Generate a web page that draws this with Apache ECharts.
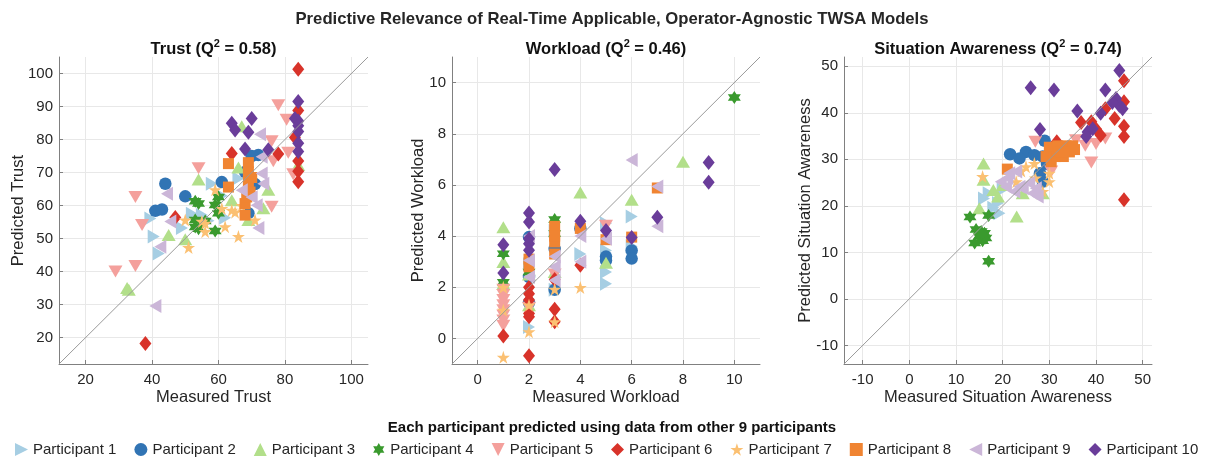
<!DOCTYPE html>
<html>
<head>
<meta charset="utf-8">
<script src="https://cdn.jsdelivr.net/npm/echarts@6/dist/echarts.min.js"></script>
<style>html,body{margin:0;padding:0;background:#fff}#c{width:1208px;height:459px}</style>
</head>
<body>
<div id="c"></div>
<script>
// ---------- DATA ----------
const participants = ['Participant 1','Participant 2','Participant 3','Participant 4','Participant 5','Participant 6','Participant 7','Participant 8','Participant 9','Participant 10'];
const colors = ['#a6cee3','#3174b4','#b2df8a','#3a9a2e','#f4a09c','#d8332a','#fbc072','#f08432','#cbb6d8','#6a3d9a'];

// Trust: [measured, predicted]
const trustP1 = [[58,66.6],[66,68.2],[62,56.3],[55,57.1],[39.5,56.1],[49,53.2],[40.5,50.6],[42,45.5],[57,55.4],[61,63],[52,57.5]];
const trustP2 = [[44,66.6],[50,62.8],[41,58.4],[43,58.8],[61,67.1],[72,75.3],[70,75],[69,57.7],[68,70.2],[71,66.5]];
const trustP3 = [[67,84],[66,71.5],[54,67.9],[45,51.1],[50,49.8],[33,34.5],[32.5,35],[75,64.8],[73.5,59.2],[69,55.6],[64,61.6],[84,72.3]];
const trustP4 = [[53,61.3],[54,60.6],[53,55.6],[53,53.5],[54,53],[56,55.3],[59,52.3],[60,62.6],[59,60.2],[60,57.7],[55,54.5]];
const trustP5 = [[78,90.4],[80.5,86],[76,79.5],[81,76],[76.5,73.4],[82.5,69.5],[54,71.3],[35,62.6],[37,54.1],[29,40],[35,41.7],[76,59.6]];
const trustP6 = [[84,101.3],[84,88.8],[83,80.6],[84,73.5],[84,70.4],[84,67.2],[64,75.8],[78,75.6],[47,56.4],[38,18.2]];
const trustP7 = [[59,64.8],[50,55.6],[51,47.3],[56,54.6],[56,52.1],[62,53.6],[66,50.6],[61,59.1],[64,58.6],[65,58],[71,55.6],[55,55.2],[67,60]];
const trustP8 = [[63,72.7],[69,73],[63,65.6],[69,70.2],[69,67],[68,60.6],[68,57.1],[69.5,64.1],[68.5,62.6],[70,68.5]];
const trustP9 = [[72.5,81.6],[44.5,63.6],[45.5,55.2],[42.5,47.5],[41,29.6],[72,53.2],[73,74.8],[73,69.7],[73.5,66.6],[67,64.6],[71.5,60.1],[70,62.5]];
const trustP10 = [[84,91.5],[83,86.4],[84,85.6],[84,84.2],[84,82.4],[84,78.9],[84,76.4],[64,84.9],[65,82.9],[70,86.4],[69,82.2],[68,77.1],[75,76.9]];

// Workload: [measured, predicted]
const workP1 = [[2,0.45],[3,1.9],[3,4.2],[4,3.3],[5,4.5],[5,3.44],[5,2.6],[5,2.14],[6,4.77],[6,3.6],[2,2.9]];
const workP2 = [[2,3.96],[2,2.4],[2,1.4],[3,3.5],[3,1.9],[4,4.3],[5,3.2],[5,3.05],[6,3.44],[6,3.12]];
const workP3 = [[1,4.35],[1,2.99],[1,2.14],[2,2.5],[2,1.3],[4,5.7],[5,2.96],[6,5.42],[8,6.91],[3,2.6]];
const workP4 = [[1,3.31],[1,2.2],[3,4.65],[3,4.1],[10,9.42],[2,2.6]];
const workP5 = [[1,1.9],[1,1.7],[1,1.5],[1,1.3],[1,1.1],[1,0.9],[1,0.7],[1,0.5],[5,4.4],[3,2.5],[2,1.2]];
const workP6 = [[1,0.09],[2,2.0],[2,1.75],[2,1.5],[2,0.97],[2,0.85],[2,-0.68],[3,1.14],[3,0.65],[4,2.86],[3,2.3]];
const workP7 = [[1,2.0],[1,1.1],[1,-0.74],[2,0.26],[3,1.92],[3,0.65],[4,1.99],[2,1.3]];
const workP8 = [[2,2.8],[2,3.1],[3,4.38],[3,3.77],[3,3.3],[4,4.3],[5,3.86],[6,3.96],[7,5.88],[3,4.0]];
const workP9 = [[2,4.0],[2,3.05],[2,2.4],[3,3.2],[3,2.8],[3,2.27],[4,4.0],[4,3.0],[5,3.9],[6,6.97],[7,5.94],[7,4.38]];
const workP10 = [[1,3.66],[1,2.56],[2,4.9],[2,4.55],[2,3.9],[2,3.7],[2,3.45],[3,6.6],[4,4.58],[5,4.22],[6,3.94],[7,4.74],[9,6.88],[9,6.1]];

// Situation Awareness: [measured, predicted]
const saP1 = [[16,21.6],[19,20.6],[19.3,18.4],[17,22.7],[20,23.5],[18,19.6]];
const saP2 = [[29,34],[21.6,31.1],[25,31.6],[23.6,30.2],[26.8,30.9],[28.6,30.6],[28,27],[28.6,25.2],[29.5,29]];
const saP3 = [[15.9,29.1],[15.9,25.6],[15,19.5],[23,17.7],[18,23.4],[20,24.5],[24.3,22.7],[28.6,22.7],[19,22]];
const saP4 = [[13,17.6],[17,17.9],[14.3,14.9],[15.4,14.5],[16.1,14.1],[15,13.4],[16.4,13.1],[14,12],[15.7,12.5],[17,8.1],[15.5,14]];
const saP5 = [[27,33.8],[35.7,34.1],[37.7,32.9],[40,33.3],[42,34.5],[39,29.3],[30.4,27.4],[33,32]];
const saP6 = [[46,46.9],[46,42.4],[46,37.1],[46,34.9],[44,38.8],[42,40.9],[36.8,37.9],[39,38.1],[41,35.2],[31.6,33.8],[46,21.3],[40,36.5]];
const saP7 = [[15.7,26.3],[26.8,29.1],[30,27],[30,25.2],[28.6,23.1],[25,28.4],[22.9,25.2],[27,26],[24,27.5]];
const saP8 = [[21,27.9],[30,32.6],[31.8,32.9],[33.6,32.9],[35,32.9],[31.4,30.6],[33,30.6],[30.4,29.5],[29.3,30.6],[34.3,31.6],[35.4,32.1],[32.5,31.5]];
const saP9 = [[19.6,25.2],[21.4,27],[22.9,27.4],[20.7,24.1],[23.6,24.1],[25.7,24.9],[22.5,23.1],[24.3,23.8],[26.4,22.7],[27.1,23.8],[27.5,22],[21,26]];
const saP10 = [[45,49.1],[26,45.4],[31,44.9],[42,44.9],[36,40.4],[44.3,43.1],[45,41.6],[45.7,40.9],[28,36.4],[41,39.9],[38.2,35.9],[39.3,36.6],[37.9,34.9],[43.5,42.2]];

const trustData = [trustP1,trustP2,trustP3,trustP4,trustP5,trustP6,trustP7,trustP8,trustP9,trustP10];
const workData = [workP1,workP2,workP3,workP4,workP5,workP6,workP7,workP8,workP9,workP10];
const saData = [saP1,saP2,saP3,saP4,saP5,saP6,saP7,saP8,saP9,saP10];

// axis ranges and tick steps
const ranges = [[12,105,10,20],[-1,11,2,2],[-14,52,10,10]]; // min, max, yStep, xStep
const panelTitles = [['Trust (Q','2',' = 0.58)'],['Workload (Q','2',' = 0.46)'],['Situation Awareness (Q','2',' = 0.74)']];
const xNames = ['Measured Trust','Measured Workload','Measured Situation Awareness'];
const yNames = ['Predicted Trust','Predicted Workload','Predicted Situation Awareness'];

// ---------- STYLE ----------
const FONT = 'Liberation Sans, Arial, Helvetica, sans-serif';
const TXT = '#262626';
const symbols = [
  'path://M0,0 L10,5 L0,10 Z',
  'circle',
  'triangle',
  'path://M50,0 L64.43,25 L93.3,25 L78.87,50 L93.3,75 L64.43,75 L50,100 L35.57,75 L6.7,75 L21.13,50 L6.7,25 L35.57,25 Z',
  'path://M0,0 L10,0 L5,10 Z',
  'diamond',
  'path://M50,0 L61.23,34.55 L97.55,34.55 L68.17,55.9 L79.39,90.45 L50,69.1 L20.61,90.45 L31.83,55.9 L2.45,34.55 L38.77,34.55 Z',
  'rect',
  'path://M10,0 L0,5 L10,10 Z',
  'diamond'
];
const sizes = [[12,14],12.5,[14,12],13,[14,12],[12,15],13,11,[12,14],[12,15]];

const grids = [
  {left:59, top:57, width:309, height:307},
  {left:452, top:57, width:308, height:307},
  {left:844, top:57, width:308, height:307}
];
const centers = grids.map(g => g.left + g.width/2);
const yNameGaps = [32, 25, 30];

function axis(i, isX) {
  const r = ranges[i];
  const step = isX ? r[3] : r[2];
  return {
    type:'value', gridIndex:i, min:r[0], max:r[1],
    minInterval:step, maxInterval:step, splitNumber:10,
    name: isX ? xNames[i] : yNames[i],
    nameLocation:'middle', nameGap: isX ? 25 : yNameGaps[i], nameMoveOverlap:false,
    nameTextStyle:{fontFamily:FONT, fontSize:16.5, color:TXT},
    axisLine:{show:true, onZero:false, lineStyle:{color:'#808080', width:1}},
    axisTick:{show:true, inside:true, length:4, lineStyle:{color:'#808080'}},
    axisLabel:{fontFamily:FONT, fontSize:15, color:TXT, margin: isX ? 8 : 6, showMinLabel:false, showMaxLabel:false},
    splitLine:{show:true, showMinLine:false, showMaxLine:false, lineStyle:{color:'#e8e8e8', width:1}}
  };
}

const series = [];
const datasets = [trustData, workData, saData];
for (let g = 0; g < 3; g++) {
  for (let p = 0; p < 10; p++) {
    series.push({
      type:'scatter', name:participants[p], xAxisIndex:g, yAxisIndex:g,
      data: datasets[g][p], symbol: symbols[p], symbolSize: sizes[p],
      itemStyle:{color:colors[p], opacity:1}, emphasis:{disabled:true}
    });
  }
  const r = ranges[g];
  series.push({
    type:'line', xAxisIndex:g, yAxisIndex:g, data:[[r[0],r[0]],[r[1],r[1]]],
    symbol:'none', silent:true, z:5,
    lineStyle:{color:'#9a9a9a', width:1}
  });
}

const titles = [
  {text:'Predictive Relevance of Real-Time Applicable, Operator-Agnostic TWSA Models', left:607, textAlign:'center', top:6,
   textStyle:{fontFamily:FONT, fontSize:16.7, fontWeight:'bold', color:TXT}},
  {text:'Each participant predicted using data from other 9 participants', left:607, textAlign:'center', top:415,
   textStyle:{fontFamily:FONT, fontSize:15, fontWeight:'bold', color:'#111'}}
];
for (let i = 0; i < 3; i++) {
  const t = panelTitles[i];
  titles.push({
    text:'{b|' + t[0] + '}{s|' + t[1] + '}{b|' + t[2] + '}',
    left:centers[i] - 5, textAlign:'center', top:33,
    textStyle:{fontFamily:FONT, rich:{
      b:{fontFamily:FONT, fontSize:16.5, fontWeight:'bold', color:'#111', lineHeight:22},
      s:{fontFamily:FONT, fontSize:11, fontWeight:'bold', color:'#111', lineHeight:12, verticalAlign:'top'}
    }}
  });
}

const chart = echarts.init(document.getElementById('c'), null, {renderer:'canvas'});
chart.setOption({
  animation:false,
  backgroundColor:'#ffffff',
  title: titles,
  grid: grids,
  xAxis: [axis(0,true), axis(1,true), axis(2,true)],
  yAxis: [axis(0,false), axis(1,false), axis(2,false)],
  legend: {
    data: participants, left:10, top:437, width:1198, padding:[5,0,5,5], itemGap:18, itemWidth:13, itemHeight:13,
    textStyle:{fontFamily:FONT, fontSize:15, color:TXT}, selectedMode:false
  },
  series: series
});
</script>
</body>
</html>
